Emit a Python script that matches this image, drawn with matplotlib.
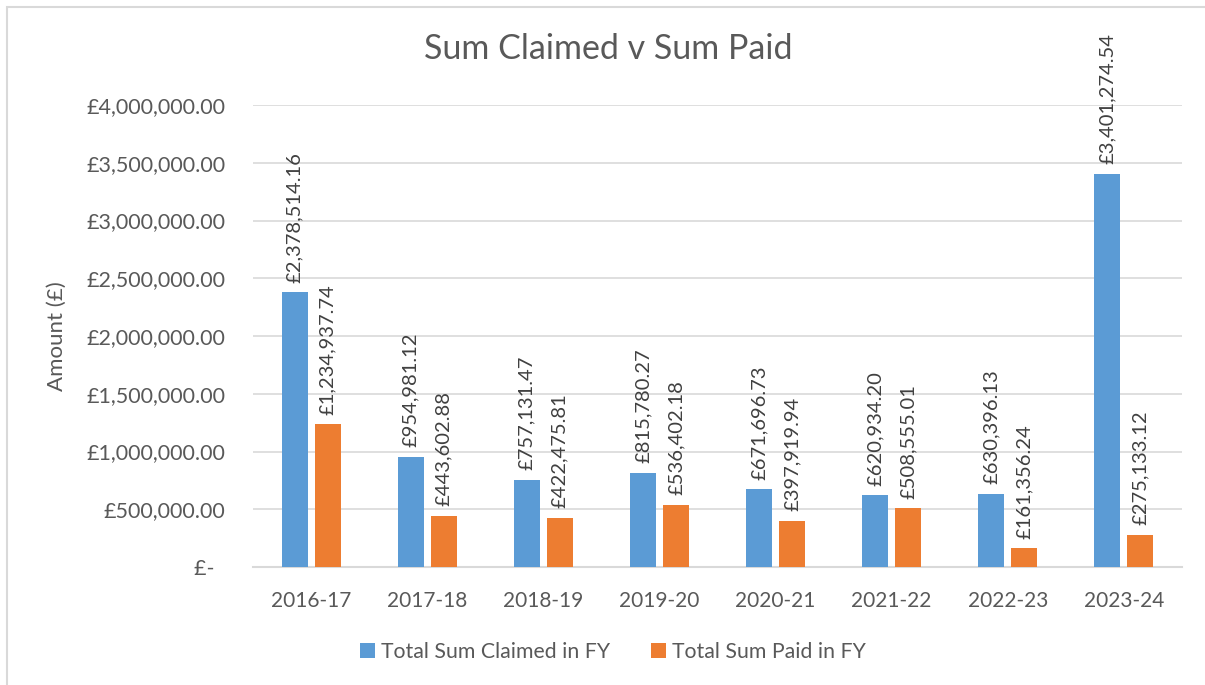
import matplotlib
matplotlib.use("Agg")
import matplotlib.pyplot as plt
import numpy as np
from matplotlib.ticker import FuncFormatter
from matplotlib.patches import Rectangle

# Data
years = ["2016-17", "2017-18", "2018-19", "2019-20", "2020-21", "2021-22", "2022-23", "2023-24"]
claimed = [2378514.16, 954981.12, 757131.47, 815780.27, 671696.73, 620934.20, 630396.13, 3401274.54]
paid = [1234937.74, 443602.88, 422475.81, 536402.18, 397919.94, 508555.01, 161356.24, 275133.12]

blue = "#5B9BD5"
orange = "#ED7D31"
grey_text = "#595959"

plt.rcParams['font.family'] = ['Lato', 'DejaVu Sans']

fig = plt.figure(figsize=(12.05, 6.85), dpi=100)
ax = fig.add_axes([253 / 1205, 1 - 567 / 685, (1182 - 253) / 1205, (567 - 105) / 685])

x = np.arange(len(years))
w = 0.224
off = 0.142
b1 = ax.bar(x - off, claimed, w, color=blue, label="Total Sum Claimed in FY", zorder=3)
b2 = ax.bar(x + off, paid, w, color=orange, label="Total Sum Paid in FY", zorder=3)

# value labels, rotated like the Excel ones
for bars, vals in ((b1, claimed), (b2, paid)):
    for rect, v in zip(bars, vals):
        ax.annotate("£{:,.2f}".format(v),
                    (rect.get_x() + rect.get_width() / 2, v),
                    xytext=(0, 7), textcoords="offset points",
                    rotation=90, ha="center", va="bottom",
                    fontsize=14.5, color="#404040", annotation_clip=False)

ax.set_xlim(-0.5, len(years) - 0.5)
ax.set_ylim(0, 4000000)
ax.set_yticks(np.arange(0, 4000001, 500000))

def money(v, pos):
    if v == 0:
        return "£-  "
    return "£{:,.2f}".format(v)

ax.yaxis.set_major_formatter(FuncFormatter(money))
ax.set_xticks(x)
ax.set_xticklabels(years)
ax.tick_params(axis="both", length=0, colors=grey_text)
ax.tick_params(axis="y", pad=20, labelsize=15.5)
ax.tick_params(axis="x", pad=17, labelsize=15)

ax.grid(axis="y", color="#D9D9D9", linewidth=1.2, zorder=0)
for s in ["top", "right", "left"]:
    ax.spines[s].set_visible(False)
ax.spines["bottom"].set_color("#D9D9D9")
ax.spines["bottom"].set_linewidth(1.5)

ax.set_ylabel("Amount (£)", fontsize=16, color=grey_text, labelpad=14)
fig.text(608 / 1205, 1 - 49 / 685, "Sum Claimed v Sum Paid", fontsize=24.5,
         color=grey_text, ha="center", va="center")

fig.legend(loc="center", bbox_to_anchor=(613 / 1205, 1 - 652 / 685), ncol=2,
           frameon=False, fontsize=15.3, labelcolor=grey_text,
           handlelength=0.7, handleheight=0.7, handletextpad=0.3, columnspacing=1.9)

# light chart border (only left/top edges visible in the reference)
fig.patches.append(Rectangle((7 / 1205, -0.05), 1.2, 1 - 7 / 685 + 0.05,
                             transform=fig.transFigure, fill=False,
                             edgecolor="#D9D9D9", linewidth=1.5))

fig.savefig("out.png", dpi=100)
